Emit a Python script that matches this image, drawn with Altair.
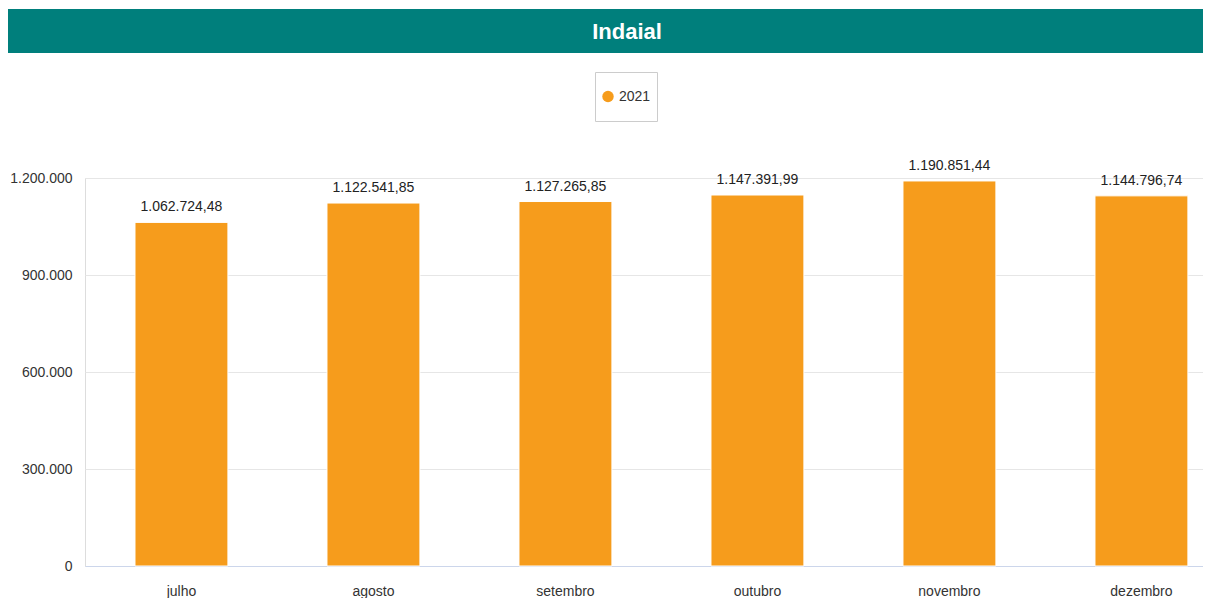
import altair as alt
import pandas as pd

TITLE = "Indaial"
SERIES = "2021"
months = ["julho", "agosto", "setembro", "outubro", "novembro", "dezembro"]
values = [1062724.48, 1122541.85, 1127265.85, 1147391.99, 1190851.44, 1144796.74]
y_ticks = [0, 300000, 600000, 900000, 1200000]

FONT = "Liberation Sans, Arial, sans-serif"
ORANGE = "#F69C1C"
TEAL = "#007F7C"
W, H = 1118, 388

df = pd.DataFrame({"mes": months, "valor": values, "ano": [SERIES] * len(months)})

x = alt.X("mes:N", sort=months, title=None,
          scale=alt.Scale(paddingInner=0.516, paddingOuter=0.1695, align=0.768),
          axis=alt.Axis(labelAngle=0, ticks=False, labelPadding=18, labelFontSize=14,
                        labelColor="#333333", labelFont=FONT,
                        domainColor="#ccd6eb", domainWidth=1))
y = alt.Y("valor:Q", title=None,
          scale=alt.Scale(domain=[0, 1200000], nice=False),
          axis=alt.Axis(values=y_ticks, format=",.0f", domain=False, ticks=False,
                        labelPadding=13, labelFontSize=14, labelColor="#333333",
                        labelFont=FONT, gridColor="#e6e6e6", gridWidth=1))

base = alt.Chart(df)
bars = base.mark_bar(stroke="white", strokeWidth=1).encode(
    x=x, y=y,
    color=alt.Color("ano:N", scale=alt.Scale(range=[ORANGE]),
                    legend=alt.Legend(orient="none", legendX=510, legendY=-106, title=None,
                                      symbolType="circle", symbolSize=130,
                                      symbolStrokeWidth=0, labelFontSize=14,
                                      labelFont=FONT, labelColor="#333333",
                                      strokeColor="#cccccc", fillColor="white",
                                      padding=6, clipHeight=37, labelOffset=4)),
)
labels = base.mark_text(baseline="bottom", dy=-8, fontSize=14, font=FONT,
                        color="#222222").encode(
    x=alt.X("mes:N", sort=months), y="valor:Q",
    text=alt.Text("valor:Q", format=",.2f"),
)

hdf = pd.DataFrame({"t": [TITLE]})
header = alt.Chart(hdf).mark_rect(color=TEAL).encode(
    x=alt.value(-77), x2=alt.value(W), y=alt.value(-169), y2=alt.value(-125))
header_text = alt.Chart(hdf).mark_text(color="white", fontSize=22, fontWeight="bold",
                                       font=FONT, baseline="middle", align="center").encode(
    x=alt.value(542), y=alt.value(-146), text="t:N")

chart = alt.layer(header, header_text, bars, labels).properties(
    width=W, height=H,
    autosize=alt.AutoSizeParams(type="none"),
    padding={"left": 77, "top": 170, "right": 0, "bottom": 32},
).configure_view(stroke=None).configure(
    locale=alt.Locale(number=alt.NumberLocale(decimal=",", thousands=".", grouping=[3],
                                              currency=["R$ ", ""]))
)

chart.save("out.html", embed_options={"renderer": "svg", "actions": False})
